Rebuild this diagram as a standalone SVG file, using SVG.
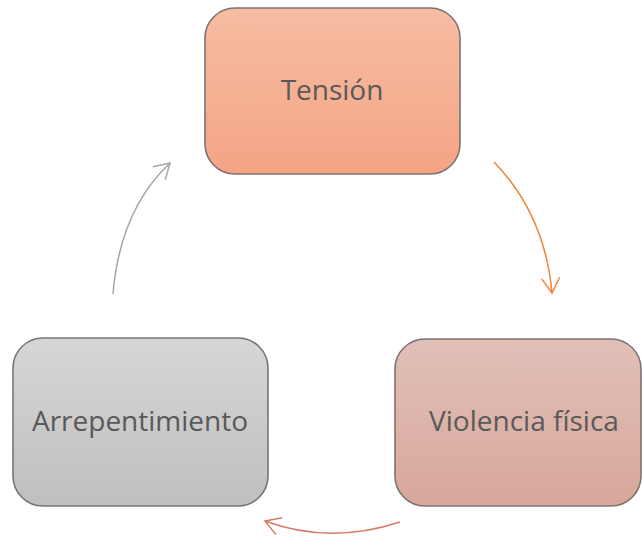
<svg xmlns="http://www.w3.org/2000/svg" width="642" height="537" viewBox="0 0 642 537">
<defs>
<linearGradient id="gT" x1="0" y1="0" x2="0" y2="1"><stop offset="0" stop-color="#f6bda3"/><stop offset="1" stop-color="#f4a484"/></linearGradient>
<linearGradient id="gV" x1="0" y1="0" x2="0" y2="1"><stop offset="0" stop-color="#e1c0b8"/><stop offset="1" stop-color="#d8a79b"/></linearGradient>
<linearGradient id="gA" x1="0" y1="0" x2="0" y2="1"><stop offset="0" stop-color="#d6d6d6"/><stop offset="1" stop-color="#bfbfbf"/></linearGradient>
<marker id="mO" markerUnits="userSpaceOnUse" orient="auto" markerWidth="30" markerHeight="30" refX="0" refY="0" viewBox="-20 -15 30 30" overflow="visible"><path d="M-15,-9 L0,0 L-15,9" fill="none" stroke="#f0843a" stroke-width="1.5"/></marker>
<marker id="mG" markerUnits="userSpaceOnUse" orient="auto" markerWidth="30" markerHeight="30" refX="0" refY="0" viewBox="-20 -15 30 30" overflow="visible"><path d="M-15,-9 L0,0 L-15,9" fill="none" stroke="#a6a6a6" stroke-width="1.5"/></marker>
<marker id="mR" markerUnits="userSpaceOnUse" orient="auto" markerWidth="30" markerHeight="30" refX="0" refY="0" viewBox="-20 -15 30 30" overflow="visible"><path d="M-15,-9 L0,0 L-15,9" fill="none" stroke="#d47b63" stroke-width="1.5"/></marker>
</defs>
<style>
.box{stroke:#7c7371;stroke-width:1.6}
.lbl{font-family:"Open Sans","Liberation Sans",sans-serif;font-size:28px;fill:#595959;text-anchor:middle}
.c{fill:none;stroke-width:1.5}
</style>
<rect width="642" height="537" fill="#ffffff"/>
<g id="connectors">
<path class="c" d="M494,162 Q545,215 552,293" stroke="#f0843a" marker-end="url(#mO)"/>
<path class="c" d="M113,294 Q120,210 170,163" stroke="#a6a6a6" marker-end="url(#mG)"/>
<path class="c" d="M400,522 Q330,545 265,521" stroke="#d47b63" marker-end="url(#mR)"/>
</g>
<g id="tension">
<rect class="box" x="205" y="8" width="255" height="166" rx="30" fill="url(#gT)"/>
<text class="lbl" x="332" y="100">Tensión</text>
</g>
<g id="violencia">
<rect class="box" x="395" y="339" width="246" height="167" rx="30" fill="url(#gV)"/>
<text class="lbl" x="524" y="431">Violencia física</text>
</g>
<g id="arrepentimiento">
<rect class="box" x="13" y="338" width="255" height="168" rx="30" fill="url(#gA)"/>
<text class="lbl" x="140" y="431">Arrepentimiento</text>
</g>
</svg>
